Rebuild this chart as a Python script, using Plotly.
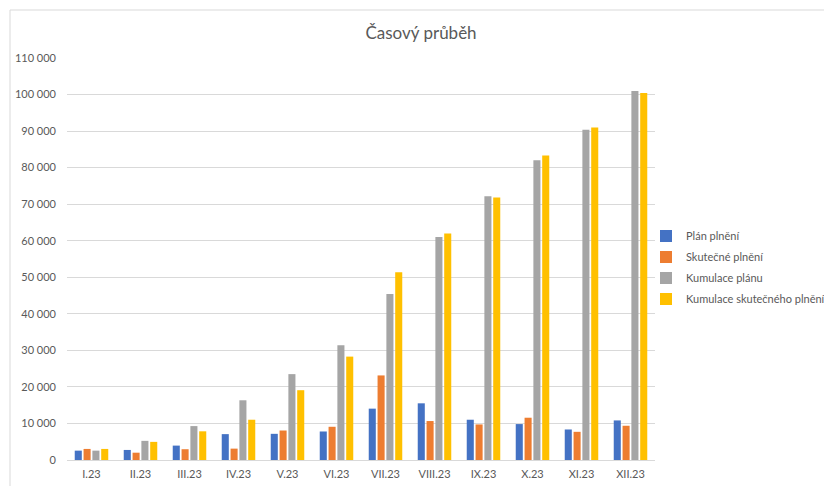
import plotly.graph_objects as go

months = ["I.23", "II.23", "III.23", "IV.23", "V.23", "VI.23", "VII.23",
          "VIII.23", "IX.23", "X.23", "XI.23", "XII.23"]
plan = [2560, 2750, 3940, 7080, 7160, 7800, 14050, 15510, 11020, 9830, 8350, 10830]
actual = [3030, 2000, 2950, 3110, 8070, 9090, 23140, 10660, 9730, 11570, 7710, 9370]
cum_plan = [2560, 5240, 9280, 16340, 23500, 31400, 45450, 61000, 72150, 82000, 90400, 101000]
cum_actual = [3030, 4960, 7850, 11020, 19100, 28290, 51400, 61950, 71800, 83300, 91000, 100450]

names = ["Plán plnění", "Skutečné plnění", "Kumulace plánu", "Kumulace skutečného plnění"]
colors = ["#4472C4", "#ED7D31", "#A5A5A5", "#FFC000"]
series = [plan, actual, cum_plan, cum_actual]

fig = go.Figure()
for i, (n, c, s) in enumerate(zip(names, colors, series)):
    fig.add_trace(go.Bar(x=months, y=s, name=n, marker_color=c,
                         marker_line_width=0, legendgroup=str(i)))

# page body has an 8px margin, so figure coordinates = screen - 8
OFF = 8
W, H = 832 - OFF, 486 - OFF
L, T = 67 - OFF, 58 - OFF
PR, PB = 655 - OFF, 460 - OFF
R, B = W - PR, H - PB
pw, ph = PR - L, PB - T
font = "Lato, 'Open Sans', sans-serif"
grey = "#595959"

fig.update_layout(
    width=W, height=H,
    margin=dict(l=L, r=R, t=T, b=B, autoexpand=False),
    paper_bgcolor="white", plot_bgcolor="white",
    barmode="group", bargap=0.28, bargroupgap=0.2,
    font=dict(family=font, color=grey, size=11),
    title=dict(text="Časový průběh", x=(421 - OFF) / W, xanchor="center",
               y=1 - (33 - OFF) / H, yanchor="middle",
               font=dict(size=17, color=grey, family=font)),
    legend=dict(x=(646 - OFF - L) / pw, xanchor="left",
                y=(PB - (267.5 - OFF)) / ph,
                yanchor="middle", font=dict(size=11, color=grey, family=font),
                tracegroupgap=2, bgcolor="rgba(0,0,0,0)"),
    showlegend=True,
)
fig.update_yaxes(range=[0, 110000], tickvals=list(range(0, 110001, 10000)),
                 ticktext=[f"{v:,}".replace(",", " ") for v in range(0, 110001, 10000)],
                 showgrid=True, gridcolor="#D9D9D9", gridwidth=1,
                 zeroline=False, showline=False, ticks="", ticklabelstandoff=10,
                 tickfont=dict(size=11, color=grey), fixedrange=True)
fig.update_xaxes(showline=True, linecolor="#D9D9D9", linewidth=1, ticks="",
                 ticklabelstandoff=4,
                 showgrid=False, tickfont=dict(size=11, color=grey), fixedrange=True)

# chart-area border (left and top edges)
x_border = (10 - OFF - L) / pw
y_border = 1 + (T - (10 - OFF)) / ph
fig.add_shape(type="line", xref="paper", yref="paper", x0=x_border, x1=x_border,
              y0=-B / ph - 0.05, y1=y_border, line=dict(color="#D9D9D9", width=1))
fig.add_shape(type="line", xref="paper", yref="paper", x0=x_border, x1=1 + R / pw + 0.05,
              y0=y_border, y1=y_border, line=dict(color="#D9D9D9", width=1))

fig.write_html("out.html")
